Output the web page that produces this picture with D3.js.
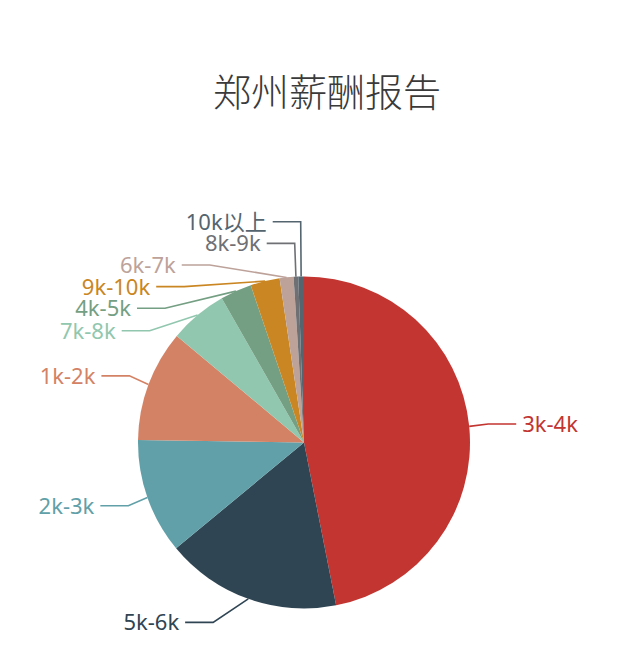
<!DOCTYPE html>
<html>
<head>
<meta charset="utf-8">
<script src="https://cdn.jsdelivr.net/npm/d3@7"></script>
<style>
body{margin:0;background:#fff;}
</style>
</head>
<body>
<div class="chart"></div>
<script>
// data (shares in %)
var categories = ["3k-4k","5k-6k","2k-3k","1k-2k","7k-8k","4k-5k","9k-10k","6k-7k","8k-9k","10k以上"];
var shares = [46.9,17.1,11.25,10.85,5.65,3.05,2.85,1.35,0.45,0.55];
var colors = ["#c23531","#2f4554","#61a0a8","#d48265","#91c7ae","#749f83","#ca8622","#bda29a","#6e7074","#546570"];
var chartTitle = "郑州薪酬报告";

var svgWidth = 640, svgHeight = 647;
var cx = 304, cy = 442.5, radius = 166;
//label line lengths, gap and label height
var len1 = 25, len2 = 28, labelGap = 6, labelH = 21.6;

var svg = d3.select(".chart")
  .append("svg")
  .attr("width", svgWidth)
  .attr("height", svgHeight);

svg.append("rect")
  .attr("width", svgWidth)
  .attr("height", svgHeight)
  .attr("fill", "#fff");

//title
svg.append("text")
  .attr("x", 327)
  .attr("y", 89)
  .attr("text-anchor", "middle")
  .attr("dominant-baseline", "central")
  .attr("font-family", "'Noto Sans CJK SC', sans-serif")
  .attr("font-size", 38)
  .attr("font-weight", 300)
  .attr("fill", "#3a3a3a")
  .text(chartTitle);

var pieData = categories.map(function(c, i){
  return {name: c, value: shares[i], color: colors[i]};
});

var pie = d3.pie()
  .sort(null)
  .value(function(d){ return d.value; });

var arcs = pie(pieData);

var arc = d3.arc()
  .innerRadius(0)
  .outerRadius(radius);

var pieGroup = svg.append("g")
  .attr("transform", `translate(${cx},${cy})`);

pieGroup.selectAll("path")
  .data(arcs)
  .enter()
  .append("path")
  .attr("d", arc)
  .attr("fill", function(d){ return d.data.color; });

//label layout (outer labels with two-part lines, pushed apart when they overlap)
var labels = arcs.map(function(a){
  var mid = (a.startAngle + a.endAngle) / 2;
  var dx = Math.sin(mid), dy = -Math.cos(mid);
  var dir = dx < 0 ? -1 : 1;
  var x1 = cx + radius * dx, y1 = cy + radius * dy;
  var x2 = x1 + dx * len1, y2 = y1 + dy * len1;
  var x3 = x2 + dir * len2;
  return {
    name: a.data.name,
    color: a.data.color,
    dir: dir,
    x: x3 + dir * labelGap,
    y: y2,
    height: labelH,
    points: [[x1, y1], [x2, y2], [x3, y2]]
  };
});

function adjustSide(list, dir){
  list.sort(function(a, b){ return a.y - b.y; });
  var n = list.length;
  function shiftDown(start, end, delta){
    for (var j = start; j < end; j++){
      if (list[j].y + delta > svgHeight) break;
      list[j].y += delta;
      if (j > start && j + 1 < end && list[j + 1].y > list[j].y + list[j].height){
        shiftUp(j, delta / 2);
        return;
      }
    }
    shiftUp(end - 1, delta / 2);
  }
  function shiftUp(end, delta){
    for (var j = end; j >= 0; j--){
      if (list[j].y - delta < 0) break;
      list[j].y -= delta;
      if (j > 0 && list[j].y > list[j - 1].y + list[j - 1].height) break;
    }
  }
  function changeX(sub, isDown){
    var lastDeltaX = isDown ? Number.MAX_VALUE : 0;
    sub.forEach(function(l){
      var deltaY = Math.abs(l.y - cy);
      var rr = radius + len1 + len2;
      var deltaX = deltaY < radius + len1
        ? Math.sqrt(rr * rr - deltaY * deltaY)
        : Math.abs(l.x - cx);
      if (isDown && deltaX >= lastDeltaX) deltaX = lastDeltaX - 10;
      if (!isDown && deltaX <= lastDeltaX) deltaX = lastDeltaX + 10;
      l.x = cx + deltaX * dir;
      lastDeltaX = deltaX;
    });
  }
  var lastY = 0;
  for (var i = 0; i < n; i++){
    var delta = list[i].y - lastY;
    if (delta < 0) shiftDown(i, n, -delta);
    lastY = list[i].y + list[i].height;
  }
  if (svgHeight - lastY < 0) shiftUp(n - 1, lastY - svgHeight);
  changeX(list.filter(function(l){ return l.y < cy; }), false);
  changeX(list.filter(function(l){ return l.y >= cy; }), true);
}

adjustSide(labels.filter(function(l){ return l.dir < 0; }), -1);
adjustSide(labels.filter(function(l){ return l.dir > 0; }), 1);

labels.forEach(function(l){
  var p = l.points;
  var dist = p[1][0] - p[2][0];
  p[2][0] = l.x - l.dir * labelGap;
  p[1][0] = p[2][0] + dist;
  p[1][1] = p[2][1] = l.y;
});

var line = d3.line();

svg.append("g")
  .selectAll("path")
  .data(labels)
  .enter()
  .append("path")
  .attr("d", function(d){ return line(d.points); })
  .attr("fill", "none")
  .attr("stroke", function(d){ return d.color; })
  .attr("stroke-width", 1.6);

svg.append("g")
  .selectAll("text")
  .data(labels)
  .enter()
  .append("text")
  .attr("x", function(d){ return d.x; })
  .attr("y", function(d){ return d.y; })
  .attr("dy", "0.36em")
  .attr("text-anchor", function(d){ return d.dir < 0 ? "end" : "start"; })
  .attr("font-family", "'Noto Sans', 'Noto Sans CJK SC', sans-serif")
  .attr("font-size", 22)
  .attr("fill", function(d){ return d.color; })
  .text(function(d){ return d.name; });
</script>
</body>
</html>
